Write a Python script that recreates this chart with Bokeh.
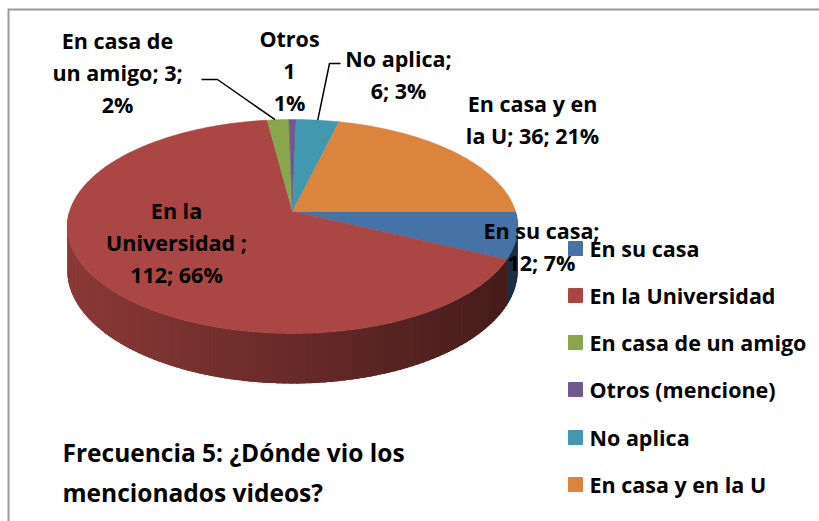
import numpy as np
from bokeh.plotting import figure
from bokeh.models import Range1d, ColumnDataSource
from bokeh.core.properties import value
from bokeh.embed import file_html
from bokeh.resources import INLINE

# ---------------- data ----------------
categories = ["En su casa", "En la Universidad", "En casa de un amigo",
              "Otros (mencione)", "No aplica", "En casa y en la U"]
counts = [12, 112, 3, 1, 6, 36]
percents = ["7%", "66%", "2%", "1%", "3%", "21%"]
label_texts = ["En su casa;\n12; 7%", "En la\nUniversidad ;\n112; 66%",
               "En casa de\nun amigo; 3;\n2%", "Otros\n1\n1%",
               "No aplica;\n6; 3%", "En casa y en\nla U; 36; 21%"]
title_text = "Frecuencia 5: ¿Dónde vio los\nmencionados videos?"

# ---------------- styles / layout ----------------
colors = ["#4572A7", "#AA4643", "#89A54E", "#71588F", "#4198AF", "#DB843D"]
FONT = "Open Sans"
label_x = [541, 176, 117, 289, 398, 532]
label_y = [246, 242, 72, 70, 74, 119]
W, H = 819, 521
cx, cy = 292.0, 211.0
bx, ay, kp, depth = 223.0, 104.9, -0.14, 43.0


def proj(theta):
    u, v = np.cos(theta), np.sin(theta)
    s = 1.0 / (1.0 + kp * v)
    return cx + bx * u * s, cy + ay * v * s, s


def hex2rgb(h):
    h = h.lstrip("#")
    return tuple(int(h[i:i + 2], 16) for i in (0, 2, 4))


def shade(h, f):
    r, g, b = hex2rgb(h)
    return "#%02x%02x%02x" % (int(r * f), int(g * f), int(b * f))


p = figure(width=W, height=H, output_backend="svg", toolbar_location=None,
           x_range=Range1d(0, W), y_range=Range1d(H, 0),
           x_axis_type=None, y_axis_type=None, min_border=0,
           outline_line_color=None, background_fill_color="white")
p.grid.visible = False

total = float(sum(counts))
bounds = np.concatenate([[0.0], np.cumsum(counts) / total * 2 * np.pi])


def side_factor(x):
    f = 0.82 - 0.42 * (x - 69.0) / (517.0 - 69.0)
    return min(max(f, 0.38), 0.85)


# ---- side of the pie (front half) ----
bxs, bys, bcs = [], [], []
for i in range(len(counts)):
    t0, t1 = max(bounds[i], 0.0), min(bounds[i + 1], np.pi)
    if t1 <= t0:
        continue
    th = np.linspace(t0, t1, max(3, int(np.degrees(t1 - t0)) + 2))
    x, y, s = proj(th)
    bxs.append(x.tolist() + x[::-1].tolist())
    bys.append(y.tolist() + (y + depth * s)[::-1].tolist())
    bcs.append(shade(colors[i], side_factor(float(np.mean(x)))))
p.patches(xs=bxs, ys=bys, fill_color=bcs, line_color=None)

grid = set(np.linspace(0, np.pi, 121).tolist())
for bnd in bounds:
    if 0 < bnd < np.pi:
        grid.add(float(bnd))
grid = np.array(sorted(grid))
sx, sy, sc = [], [], []
for t0, t1 in zip(grid[:-1], grid[1:]):
    tm = 0.5 * (t0 + t1)
    idx = int(np.searchsorted(bounds, tm) - 1)
    ext = min(t1 + 0.012, bounds[idx + 1], np.pi)
    th = np.array([t0, ext])
    x, y, s = proj(th)
    sx.append([x[0], x[1], x[1], x[0]])
    sy.append([y[0], y[1], y[1] + depth * s[1], y[0] + depth * s[0]])
    sc.append(shade(colors[idx], side_factor(float(np.mean(x)))))
p.patches(xs=sx, ys=sy, fill_color=sc, line_color=None)

# ---- top faces ----
tx, ty = [], []
for i in range(len(counts)):
    t0, t1 = bounds[i], bounds[i + 1]
    n = max(3, int(np.degrees(t1 - t0)) + 2)
    th = np.linspace(t0, t1, n)
    x, y, _ = proj(th)
    tx.append([cx] + x.tolist())
    ty.append([cy] + y.tolist())
p.patches(xs=tx, ys=ty, fill_color=colors, line_color=colors, line_width=0.5)

# ---- leader lines for the small slices ----
mid_g = 0.5 * (bounds[2] + bounds[3])
gx, gy, _ = proj(mid_g)
p.line([201, 217, gx - 3], [79, 79, gy], line_color="black", line_width=1.5)
mid_t = 0.5 * (bounds[4] + bounds[5])
tx2, ty2, _ = proj(mid_t)
p.line([340, 329, tx2], [63, 63, ty2], line_color="black", line_width=1.5)

# ---- data labels ----
lab = ColumnDataSource(dict(x=label_x, y=label_y, t=label_texts))
p.text(x="x", y="y", text="t", source=lab, text_align="center",
       text_baseline="middle", text_font=value(FONT), text_font_style="bold",
       text_font_size="21.5px", text_color="black", text_line_height=1.1)

# ---- legend ----
leg_y = [248, 295, 342, 389, 437, 484]
leg = ColumnDataSource(dict(x=[575] * 6, tx=[589] * 6, y=leg_y,
                            t=categories, c=colors))
p.scatter(x="x", y="y", source=leg, marker="square", size=14,
          fill_color="c", line_color="c")
p.text(x="tx", y="y", text="t", source=leg, text_align="left",
       text_baseline="middle", text_font=value(FONT), text_font_style="bold",
       text_font_size="21.5px", text_color="black")

# ---- title ----
p.text(x=[62], y=[472], text=[title_text], text_align="left",
       text_baseline="middle", text_font=value(FONT), text_font_style="bold",
       text_font_size="24.5px", text_color="black", text_line_height=1.2)

# ---- chart border (top and left visible) ----
p.line([8, W], [9, 9], line_color="#9a9a9a", line_width=2)
p.line([8, 8], [8, H], line_color="#9a9a9a", line_width=2)

open("out.html", "w").write(file_html(p, INLINE))
